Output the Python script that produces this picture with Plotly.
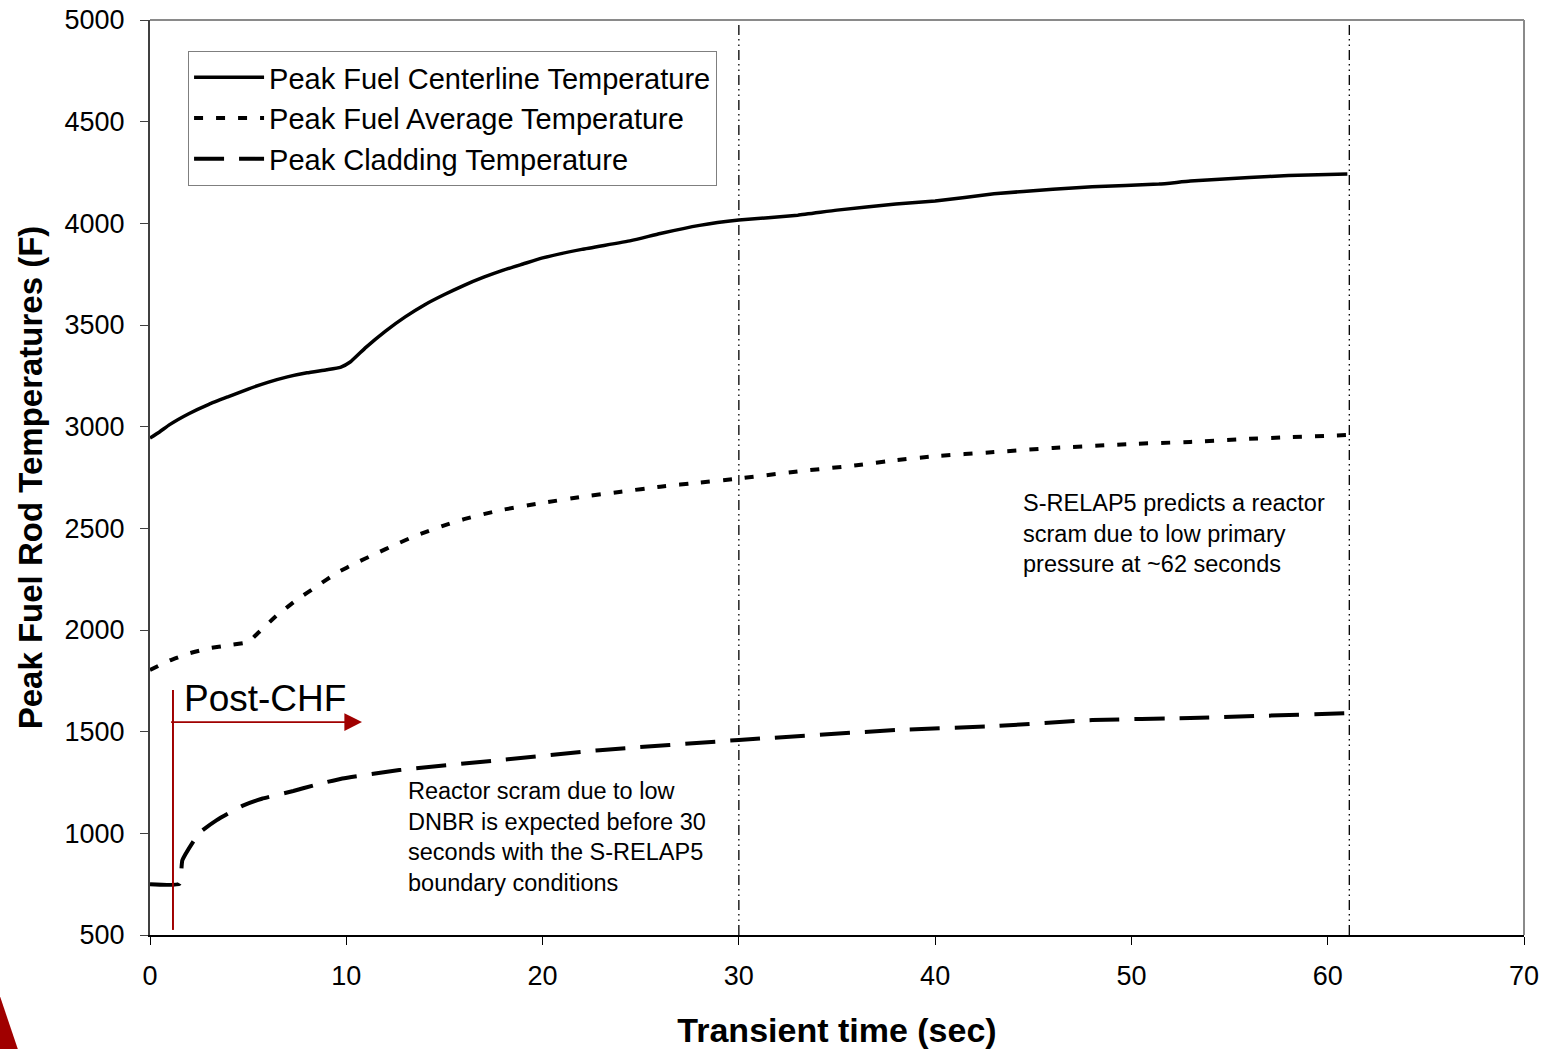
import plotly.graph_objects as go

# Transient time (s) and peak fuel rod temperatures (F)
t_centerline = [0, 0.5, 1, 2, 3, 4, 5, 6, 7, 8, 9, 9.7, 10.2, 11, 12, 13, 14, 15, 16,
                17, 18, 19, 20, 22, 24.5, 26, 28, 30, 33, 35, 38, 40, 43, 46, 48,
                51.4, 53, 56, 58, 61]
centerline = [2944, 2975, 3010, 3065, 3110, 3148, 3185, 3218, 3245, 3265, 3280, 3292,
              3318, 3390, 3470, 3540, 3600, 3650, 3695, 3735, 3770, 3800, 3830, 3872,
              3915, 3950, 3990, 4016, 4040, 4065, 4095, 4110, 4145, 4168, 4180, 4193,
              4208, 4225, 4235, 4243]

t_average = [0, 1, 2, 3, 4, 5, 5.5, 6.5, 7.5, 8.5, 9.5, 10.5, 11.5, 12.5, 13.5, 15, 16,
             17, 18, 20, 22, 24, 26, 28, 30, 33, 36, 38, 40, 43, 46, 50, 53, 56, 58, 61]
average = [1803, 1850, 1885, 1910, 1925, 1940, 1985, 2075, 2150, 2215, 2280, 2330, 2375,
           2420, 2462, 2515, 2545, 2570, 2592, 2625, 2655, 2680, 2705, 2725, 2745, 2780,
           2810, 2835, 2855, 2875, 2895, 2915, 2925, 2940, 2948, 2959]

t_cladding = [0, 1.5, 1.65, 2.5, 3.4, 4.7, 5.7, 7.3, 8.3, 9.8, 12.7, 17.8, 22.9, 30, 38,
              43, 48, 53, 61]
cladding = [750, 752, 868, 1001, 1065, 1135, 1170, 1208, 1235, 1270, 1311, 1360, 1409,
            1459, 1508, 1527, 1557, 1567, 1591]

series_names = ["Peak Fuel Centerline Temperature",
                "Peak Fuel Average Temperature",
                "Peak Cladding Temperature"]

# Event markers (s)
event_times = [30, 61.1]
chf_time = 1.17
chf_span = [525, 1705]
chf_arrow = [1.0, 10.8, 1547]

x_ticks = [0, 10, 20, 30, 40, 50, 60, 70]
y_ticks = [500, 1000, 1500, 2000, 2500, 3000, 3500, 4000, 4500, 5000]

FONT = "Arial, Liberation Sans, sans-serif"
RED = "#A00000"

fig = go.Figure()
fig.add_trace(go.Scatter(x=t_centerline, y=centerline, mode="lines", name=series_names[0],
                         line=dict(color="black", width=3.5, shape="spline", smoothing=0.4)))
fig.add_trace(go.Scatter(x=t_average, y=average, mode="lines", name=series_names[1],
                         line=dict(color="black", width=4, dash="9px,13px",
                                   shape="spline", smoothing=0.4)))
fig.add_trace(go.Scatter(x=t_cladding, y=cladding, mode="lines", name=series_names[2],
                         line=dict(color="black", width=4, dash="30px,15px",
                                   shape="spline", smoothing=0.4)))

shapes = []
for et in event_times:
    shapes.append(dict(type="line", xref="x", yref="y", x0=et, x1=et, y0=500, y1=5000,
                       line=dict(color="black", width=1.3,
                                 dash="10px,4px,1.5px,4px,1.5px,4px")))
# Post-CHF marker line
shapes.append(dict(type="line", xref="x", yref="y", x0=chf_time, x1=chf_time,
                   y0=chf_span[0], y1=chf_span[1], line=dict(color=RED, width=2)))
# Plot frame (top and right)
shapes.append(dict(type="line", xref="paper", yref="paper", x0=0, x1=1, y0=1, y1=1,
                   line=dict(color="#8a8a8a", width=2)))
shapes.append(dict(type="line", xref="paper", yref="paper", x0=1, x1=1, y0=0, y1=1,
                   line=dict(color="#8a8a8a", width=2)))
# Corner decoration
shapes.append(dict(type="path", xref="paper", yref="paper",
                   path="M -0.1095 -0.0656 L -0.0950 -0.1300 L -0.1095 -0.1300 Z",
                   fillcolor="#A00000", line=dict(width=0)))

annotations = [
    dict(x=chf_arrow[1], y=chf_arrow[2], ax=chf_arrow[0], ay=chf_arrow[2],
         xref="x", yref="y", axref="x", ayref="y", text="", showarrow=True,
         arrowhead=2, arrowsize=2.2, arrowwidth=1.6, arrowcolor=RED),
    dict(x=1.63, y=1665, xref="x", yref="y", text="Post-CHF", showarrow=False,
         xanchor="left", yanchor="middle", font=dict(family=FONT, size=37, color="black")),
    dict(x=13.05, y=981, xref="x", yref="y",
         text="Reactor scram due to low<br>DNBR is expected before 30<br>"
              "seconds with the S-RELAP5<br>boundary conditions",
         showarrow=False, xanchor="left", yanchor="middle", align="left",
         font=dict(family=FONT, size=23.5, color="black")),
    dict(x=44.38, y=2477, xref="x", yref="y",
         text="S-RELAP5 predicts a reactor<br>scram due to low primary<br>"
              "pressure at ~62 seconds",
         showarrow=False, xanchor="left", yanchor="middle", align="left",
         font=dict(family=FONT, size=23.5, color="black")),
]

fig.update_layout(
    width=1548, height=1049,
    margin=dict(l=150, r=24, t=20, b=114),
    paper_bgcolor="white", plot_bgcolor="white",
    font=dict(family=FONT, color="black"),
    shapes=shapes, annotations=annotations,
    legend=dict(x=0.0277, y=0.9661, xanchor="left", yanchor="top",
                bgcolor="white", bordercolor="#7f7f7f", borderwidth=1,
                font=dict(family=FONT, size=29, color="black"),
                itemwidth=70, tracegroupgap=0),
    xaxis=dict(range=[0, 70], tickvals=x_ticks, ticks="outside", ticklen=8,
               tickcolor="black", showgrid=False, zeroline=False, automargin=False,
               showline=True, linecolor="black", linewidth=1.5,
               tickfont=dict(family=FONT, size=27), ticklabelstandoff=8,
               title=dict(text="<b>Transient time (sec)</b>", standoff=29,
                          font=dict(family=FONT, size=34))),
    yaxis=dict(range=[500, 5000], tickvals=y_ticks, ticks="outside", ticklen=8,
               tickcolor="#404040", showgrid=False, zeroline=False, automargin=False,
               showline=True, linecolor="#404040", linewidth=2,
               tickfont=dict(family=FONT, size=27), ticklabelstandoff=10,
               title=dict(text="<b>Peak Fuel Rod Temperatures (F)</b>", standoff=12,
                          font=dict(family=FONT, size=33))),
)

fig.write_html("out.html")
